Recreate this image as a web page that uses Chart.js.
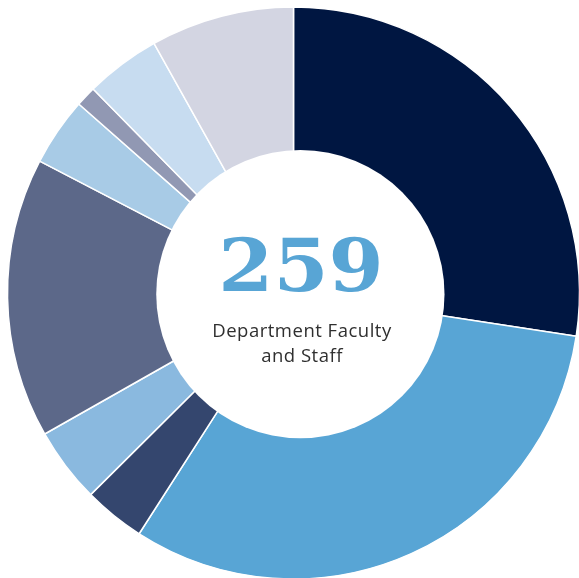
<!DOCTYPE html>
<html>
<head>
<meta charset="utf-8">
<script src="https://cdn.jsdelivr.net/npm/chart.js@4.4.0/dist/chart.umd.min.js"></script>
<style>
  html, body { margin: 0; padding: 0; background: #fff; overflow: hidden; width: 579px; height: 578px; }
  #wrap { position: absolute; left: 0; top: 0; width: 587px; height: 586px; }
  #big { position: absolute; left: 301px; top: 226px; transform: translateX(-50%) scaleX(1.1); transform-origin: center;
         font-family: "DejaVu Serif", serif; font-weight: bold; font-size: 72px; line-height: 80px; color: #58a5d5; white-space: nowrap; }
  #sub { position: absolute; left: 302px; top: 317px; transform: translateX(-50%); text-align: center;
         font-family: "Open Sans", sans-serif; font-size: 18.5px; letter-spacing: 0.5px; line-height: 25px; color: #2f2f2f; white-space: nowrap; }
</style>
</head>
<body>
<div id="wrap"><canvas id="c"></canvas></div>
<div id="big">259</div>
<div id="sub">Department Faculty<br>and Staff</div>
<script>
const categories = ["Group 1", "Group 2", "Group 3", "Group 4", "Group 5", "Group 6", "Group 7", "Group 8", "Group 9"];
const counts = [71, 82, 9, 11, 41, 10, 3, 11, 21];
const sliceColors = ["#001641", "#58a5d5", "#34466e", "#8ab9df", "#5c6889", "#a8cbe6", "#9198b3", "#c7dcf0", "#d3d5e2"];

// white hole, slightly offset to the right of the ring's centre as in the original
const holePlugin = {
  id: "hole",
  afterDatasetsDraw(chart) {
    const arc = chart.getDatasetMeta(0).data[0];
    if (!arc) return;
    const ctx = chart.ctx;
    const r = arc.outerRadius * 0.504;
    ctx.save();
    ctx.beginPath();
    ctx.arc(arc.x + arc.outerRadius * 0.024, arc.y + arc.outerRadius * 0.004, r, 0, Math.PI * 2);
    ctx.fillStyle = "#ffffff";
    ctx.fill();
    ctx.restore();
  }
};

new Chart(document.getElementById("c"), {
  type: "doughnut",
  data: {
    labels: categories,
    datasets: [{
      data: counts,
      backgroundColor: sliceColors,
      borderColor: "#ffffff",
      borderWidth: 1.5,
      hoverOffset: 0
    }]
  },
  options: {
    responsive: true,
    maintainAspectRatio: false,
    animation: false,
    radius: 286,
    cutout: 100,
    layout: { padding: 0 },
    plugins: { legend: { display: false }, tooltip: { enabled: false } },
    events: []
  },
  plugins: [holePlugin]
});
</script>
</body>
</html>
